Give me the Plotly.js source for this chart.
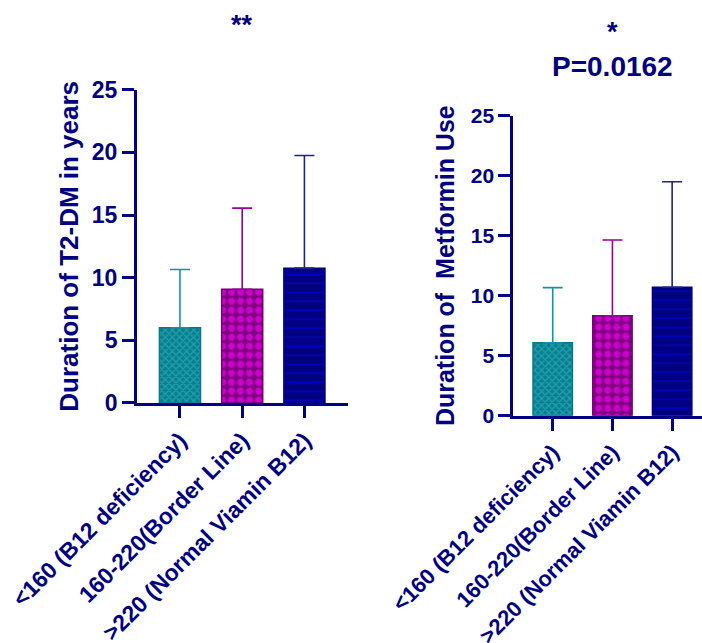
<!DOCTYPE html>
<html>
<head>
<meta charset="utf-8">
<script src="https://cdn.plot.ly/plotly-3.0.1.min.js"></script>
<style>html,body{margin:0;padding:0;background:#fff;}#chart{width:702px;height:643px;}</style>
</head>
<body>
<div id="chart"></div>
<script>
// ---- data ----
var categories = ["<160 (B12 deficiency)", "160-220(Border Line)", ">220 (Normal Viamin B12)"];
var t2dmMean = [6.0, 9.08, 10.76];
var t2dmSD = [4.65, 6.47, 8.99];
var metforminMean = [6.08, 8.33, 10.7];
var metforminSD = [4.59, 6.31, 8.8];
var yTicks = [0, 5, 10, 15, 20, 25];
var leftTitle = "Duration of T2-DM in years";
var rightTitle = "Duration of \u00a0Metformin Use";
var leftSignif = "**";
var rightSignif = "*";
var rightP = "P=0.0162";

// ---- styles ----
var NAVY = "#000080";
var FONT = "Liberation Sans, Arial, sans-serif";
var barColors = ["#0B7E8E", "#800080", "#000080"];
var lineColors = ["#0A7585", "#770077", "#000080"];
var patShapes = ["x", ".", "-"];
var patFg = ["#1FA0B0", "#CC00CC", "#0000D0"];
var patSize = [5, 9, 9];
var patSolid = [0.45, 0.45, 0.15];
var errColors = ["#1A8E9E", "#990099", "#20208A"];

var data = [];
function addTraces(means, sds, xa, ya) {
  for (var i = 0; i < categories.length; i++) {
    data.push({
      type: "bar", x: [categories[i]], y: [means[i]], xaxis: xa, yaxis: ya, width: 0.66,
      marker: {
        color: barColors[i],
        line: {color: lineColors[i], width: 1.5},
        pattern: {shape: patShapes[i], fgcolor: patFg[i], bgcolor: barColors[i], size: patSize[i], solidity: patSolid[i], fillmode: "replace"}
      },
      error_y: {type: "data", symmetric: false, array: [sds[i]], arrayminus: [0], color: errColors[i], thickness: 1.6, width: 10},
      hoverinfo: "none", showlegend: false
    });
  }
}
addTraces(t2dmMean, t2dmSD, "x", "y");
addTraces(metforminMean, metforminSD, "x2", "y2");

function yAxis(domain, anchor, title, tickSize, titleSize, standoff) {
  return {
    domain: domain, anchor: anchor, range: [0, 25], tickvals: yTicks, ticktext: yTicks.map(String),
    showgrid: false, zeroline: false, showline: true, linecolor: NAVY, linewidth: 3,
    ticks: "outside", ticklen: 12, tickwidth: 3, tickcolor: NAVY,
    tickfont: {family: FONT, size: tickSize, color: NAVY, weight: 700},
    title: {text: title, font: {family: FONT, size: titleSize, color: NAVY, weight: 700}, standoff: standoff},
    fixedrange: true
  };
}
function xAxis(domain, anchor, range, tickSize) {
  return {
    domain: domain, anchor: anchor, range: range, type: "category",
    showgrid: false, zeroline: false, showline: true, linecolor: NAVY, linewidth: 3,
    ticks: "outside", ticklen: 12, tickwidth: 3, tickcolor: NAVY, tickangle: -45,
    tickfont: {family: FONT, size: tickSize, color: NAVY, weight: 700},
    fixedrange: true
  };
}

var layout = {
  width: 702, height: 643,
  margin: {l: 0, r: 0, t: 0, b: 0},
  paper_bgcolor: "#fff", plot_bgcolor: "rgba(0,0,0,0)",
  xaxis: xAxis([0.1952, 0.4957], "y", [-0.69, 2.7], 23),
  yaxis: yAxis([0.3733, 0.8605], "x", leftTitle, 23, 26, 6),
  xaxis2: xAxis([0.7312, 1.0], "y2", [-0.66, 2.5], 22),
  yaxis2: yAxis([0.3535, 0.8201], "x2", rightTitle, 21, 25, 9),
  annotations: [
    {text: leftSignif, xref: "paper", yref: "paper", x: 242/702, y: 1 - 8/643, xanchor: "center", yanchor: "top", showarrow: false, font: {family: FONT, size: 27, color: NAVY, weight: 700}},
    {text: rightSignif, xref: "paper", yref: "paper", x: 612/702, y: 1 - 15/643, xanchor: "center", yanchor: "top", showarrow: false, font: {family: FONT, size: 27, color: NAVY, weight: 700}},
    {text: rightP, xref: "paper", yref: "paper", x: 612/702, y: 1 - 66/643, xanchor: "center", yanchor: "middle", showarrow: false, font: {family: FONT, size: 28, color: NAVY, weight: 700}}
  ]
};

Plotly.newPlot("chart", data, layout, {staticPlot: true, displayModeBar: false});
</script>
</body>
</html>
